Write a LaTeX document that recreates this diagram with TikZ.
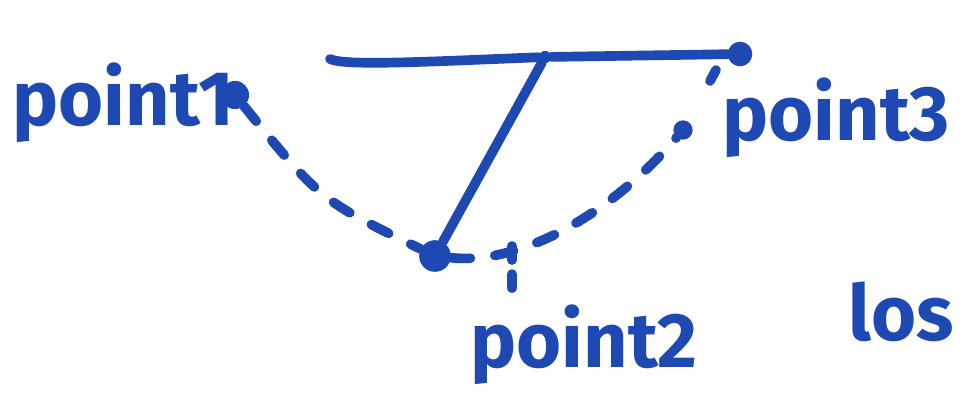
\documentclass[tikz,border=0pt]{standalone}
\usepackage{fontspec}
\setmainfont{Fira Sans}
\definecolor{ink}{RGB}{30,72,178}
\begin{document}
\begin{tikzpicture}[x=0.02cm,y=-0.02cm,
  pen/.style={ink,line width=5.5pt,line cap=round},
  dashpen/.style={pen,dash pattern=on 11pt off 14pt},
  dot/.style={circle,fill=ink,inner sep=0pt,minimum size=#1},
  hand/.style={ink,inner sep=0pt,anchor=base west,font=\fontsize{44}{44}\selectfont\bfseries}]
\useasboundingbox (0,0) rectangle (962,403);
\clip (0,0) rectangle (962,403);
% points
\node[dot=16pt] (p1) at (235,95) {};
\node[dot=18pt] (p2) at (435,256) {};
\node[dot=14pt] (p3) at (740,54) {};
\node[dot=11pt] (q3) at (683,130) {};
\node[dot=7pt] (joint) at (545,57) {};
\coordinate (left) at (330,59);
\coordinate (ticktop) at (512,246);
\coordinate (tickbot) at (512,300);
\coordinate (marktop) at (716,70);
\coordinate (markbot) at (710,81);
% solid lines
\draw[pen] (left) .. controls (345,66) and (420,62) .. (joint);
\draw[pen] (joint) -- (p3);
\draw[pen] (joint) -- (p2);
% dashed lines
\draw[dashpen] (p1) .. controls (320,200) .. (p2);
\draw[dashpen] (p2) .. controls (520,265) and (610,215) .. (q3);
\draw[pen,dash pattern=on 8pt off 8pt] (ticktop) -- (tickbot);
\draw[pen] (marktop) -- (markbot);
% labels
\node[hand] (l1) at (12,125) {point1};
\node[hand] (l2) at (470,367) {point2};
\node[hand] (l3) at (722,140) {point3};
\node[hand] (l4) at (848,340) {los};
\end{tikzpicture}
\end{document}
